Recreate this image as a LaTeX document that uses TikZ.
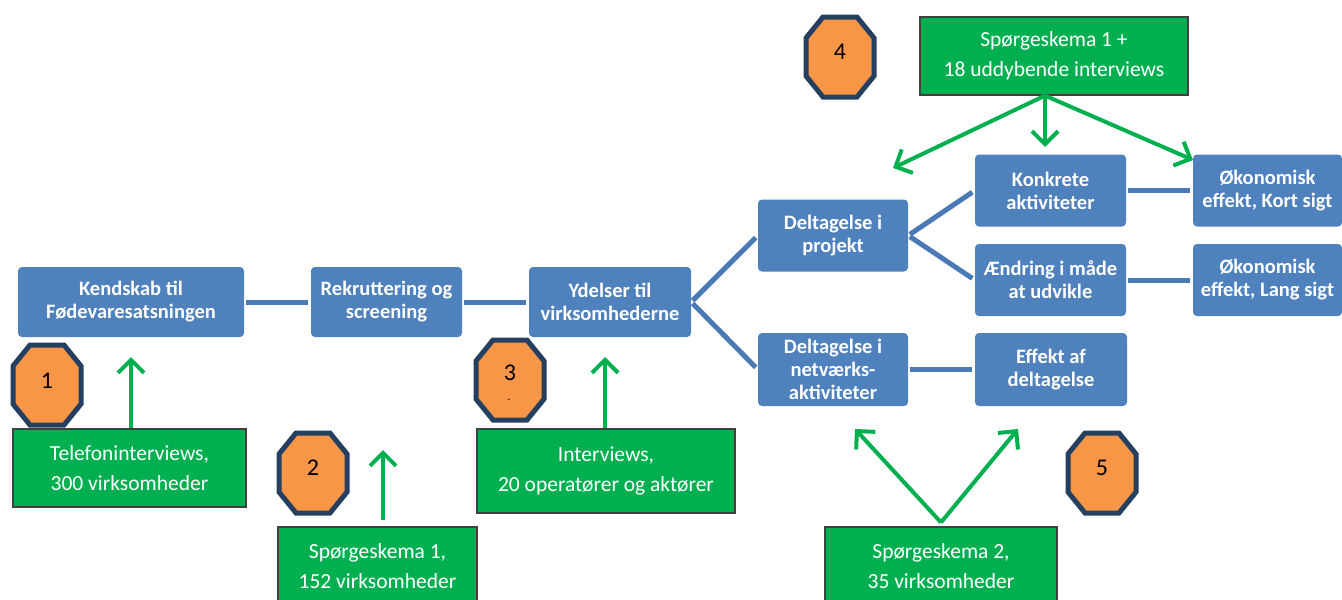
\documentclass[tikz,border=0pt]{standalone}
\usepackage{fontspec}
\setmainfont{Carlito}
\usetikzlibrary{arrows.meta}
\definecolor{bluebox}{HTML}{4F81BD}
\definecolor{blueline}{HTML}{4A7AB5}
\definecolor{greenbox}{HTML}{00B050}
\definecolor{greenline}{HTML}{00B050}
\definecolor{octfill}{HTML}{F79646}
\definecolor{octline}{HTML}{243F60}
\newcommand\myocta[5]{%
  \path[octa] (#2-34,#3-19) -- (#2-17,#3-40) -- (#2+17,#3-40) -- (#2+34,#3-19) -- (#2+34,#3+19) -- (#2+17,#3+40) -- (#2-17,#3+40) -- (#2-34,#3+19) -- cycle;
  \node[octnum] (#1) at (#2,#3-#5) {#4};}
\tikzset{
  bbox/.style={rectangle, rounded corners=4pt, fill=bluebox, text=white, font=\bfseries\fontsize{20.5}{23}\selectfont, align=center, inner sep=0pt},
  gbox/.style={rectangle, fill=greenbox, draw=black!75, line width=1.2pt, text=white, font=\fontsize{21.5}{30}\selectfont, align=center, inner sep=0pt},
  bline/.style={draw=blueline, line width=5pt, shorten <=2pt, shorten >=3pt},
  garrow/.style={draw=greenline, line width=4pt, -{Straight Barb[length=13pt,width=26pt]}},
  octa/.style={fill=octfill, draw=octline, line width=5pt, line join=miter},
  octnum/.style={font=\fontsize{24}{24}\selectfont, text=black, inner sep=0pt},
}
\begin{document}
\begin{tikzpicture}[x=1pt,y=-1pt]
\path[fill=white, use as bounding box] (0,0) rectangle (1342,600);
% blue boxes
\node[bbox, minimum width=226pt, minimum height=70pt] (A) at (131,302) {Kendskab til\\Fødevaresatsningen};
\node[bbox, minimum width=151pt, minimum height=70pt] (B) at (386.5,302) {Rekruttering og\\screening};
\node[bbox, minimum width=162pt, minimum height=70pt] (C) at (610,302) {Ydelser til\\virksomhederne};
\node[bbox, minimum width=150pt, minimum height=72pt] (D) at (833,235.5) {Deltagelse i\\projekt};
\node[bbox, minimum width=151pt, minimum height=72pt] (E) at (1050.5,190.5) {Konkrete\\aktiviteter};
\node[bbox, minimum width=151pt, minimum height=72pt] (F) at (1050.5,280) {Ændring i måde\\at udvikle};
\node[bbox, minimum width=149pt, minimum height=72pt] (G) at (1267.5,190.5) {Økonomisk\\effekt, Kort sigt};
\node[bbox, minimum width=149pt, minimum height=72pt] (H) at (1267.5,280) {Økonomisk\\effekt, Lang sigt};
\node[bbox, minimum width=150pt, minimum height=73pt] (I) at (833,369.5) {Deltagelse i\\netværks-\\aktiviteter};
\node[bbox, minimum width=152pt, minimum height=73pt] (J) at (1051,369.5) {Effekt af\\deltagelse};
% blue connectors
\draw[bline] (A.east) -- (B.west);
\draw[bline] (B.east) -- (C.west);
\draw[bline] (C.east) -- (D.west);
\draw[bline] (C.east) -- (I.west);
\draw[bline] (D.east) -- (E.west);
\draw[bline] (D.east) -- (F.west);
\draw[bline] (E.east) -- (G.west);
\draw[bline] (F.east) -- (H.west);
\draw[bline] (I.east) -- (J.west);
% octagons
\myocta{o1}{47}{385}{1}{4}
\myocta{o2}{313}{473}{2}{5}
\myocta{o3}{510}{380}{3}{7}
\node[font=\fontsize{10}{10}\selectfont, inner sep=0pt] (o3b) at (509,401) {-};
\myocta{o4}{840}{57}{4}{5}
\myocta{o5}{1102}{473}{5}{5}
% green boxes
\node[gbox, minimum width=233pt, minimum height=78pt] (tel) at (129.5,468) {Telefoninterviews,\\300 virksomheder};
\node[gbox, minimum width=199pt, minimum height=78pt] (sp1) at (377.5,566) {Spørgeskema 1,\\152 virksomheder};
\node[gbox, minimum width=258pt, minimum height=84pt] (intv) at (606,471) {Interviews,\\20 operatører og aktører};
\node[gbox, minimum width=268pt, minimum height=78pt] (top) at (1054,56) {Spørgeskema 1 +\\18 uddybende interviews};
\node[gbox, minimum width=232pt, minimum height=78pt] (sp2) at (941,566) {Spørgeskema 2,\\35 virksomheder};
% green arrows
\coordinate (a1) at (131,357);
\coordinate (a2) at (383,450);
\coordinate (a3) at (605,357);
\coordinate (t1) at (893,168);
\coordinate (t2) at (1045,147);
\coordinate (t3) at (1193,160);
\coordinate (b1) at (855,429);
\coordinate (b2) at (1018,429);
\draw[garrow] (tel.north -| a1) -- (a1);
\draw[garrow] ([yshift=6pt]sp1.north -| a2) -- (a2);
\draw[garrow] (intv.north -| a3) -- (a3);
\draw[garrow] (top.south -| t2) -- (t1);
\draw[garrow] (top.south -| t2) -- (t2);
\draw[garrow] (top.south -| t2) -- (t3);
\draw[garrow] ([yshift=4pt]sp2.north) -- (b1);
\draw[garrow] ([yshift=4pt]sp2.north) -- (b2);
\end{tikzpicture}
\end{document}
